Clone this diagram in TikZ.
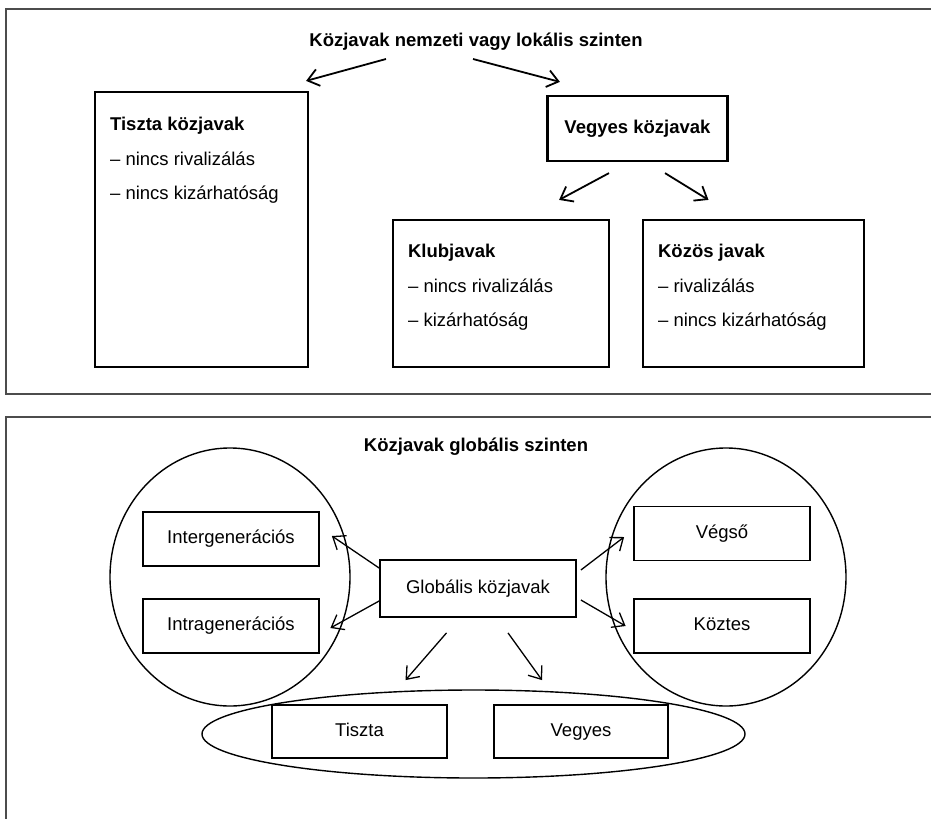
\documentclass[tikz,border=0pt]{standalone}
\usepackage{fontspec}
\setmainfont{Liberation Sans}
\usetikzlibrary{positioning,arrows.meta}

\tikzset{
  frame/.style={draw=black!70,line width=1.8pt},
  ell/.style={draw,line width=1.4pt},
  txt/.style={font=\fontsize{18.5}{22}\selectfont},
  bold/.style={font=\bfseries\fontsize{18.5}{22}\selectfont}
}

\begin{document}
\begin{tikzpicture}[x=1pt,y=-1pt,txt,>={Straight Barb[length=11pt,width=17pt]}]

      \useasboundingbox (0,0) rectangle (931,819);

      % the two panels
      \draw[frame] (931,9) -- (6,9) -- (6,394) -- (931,394);
      \draw[frame] (931,417) -- (6,417) -- (6,819);

      % national / local level
      \node[bold] (title1) at (476,42) {Közjavak nemzeti vagy lokális szinten};

      \begin{scope}[every node/.style={draw,rectangle,line width=2.2pt}]
        \node[minimum width=213pt,minimum height=275pt] (tiszta) at (201.5,229.5) {};
        \node[bold,minimum width=180pt,minimum height=65pt] (vegyes) at (637.5,128.5) {Vegyes közjavak};
        \node[minimum width=216pt,minimum height=147pt] (klub) at (501,293.5) {};
        \node[minimum width=221pt,minimum height=147pt] (kozos) at (753.5,293.5) {};
      \end{scope}

      \begin{scope}[every node/.style={align=left,inner sep=0pt,font=\fontsize{18.5}{34.5}\selectfont}]
        \node[below right=26pt and 16pt of tiszta.north west] (tisztatxt)
          {\textbf{Tiszta közjavak}\\– nincs rivalizálás\\– nincs kizárhatóság};
        \node[below right=25pt and 16pt of klub.north west] (klubtxt)
          {\textbf{Klubjavak}\\– nincs rivalizálás\\– kizárhatóság};
        \node[below right=25pt and 16pt of kozos.north west] (kozostxt)
          {\textbf{Közös javak}\\– rivalizálás\\– nincs kizárhatóság};
      \end{scope}

      \begin{scope}[every edge/.style={draw,->,line width=1.8pt}]
        \path ([xshift=-90pt,yshift=-17pt]title1.center) edge ([xshift=-3pt,yshift=10pt]tiszta.north east);
        \path ([xshift=-3pt,yshift=-17pt]title1.center) edge ([xshift=13.5pt,yshift=13pt]vegyes.north west);
        \path ([xshift=-28.5pt,yshift=-11pt]vegyes.south) edge ([xshift=-51pt,yshift=19pt]klub.north east);
        \path ([xshift=27.5pt,yshift=-11pt]vegyes.south) edge ([xshift=-45pt,yshift=19pt]kozos.north);
      \end{scope}

      % global level
      \node[bold] (title2) at (476,447) {Közjavak globális szinten};

      \draw[ell] (230,577) ellipse [x radius=120pt,y radius=129pt];
      \draw[ell] (726,577) ellipse [x radius=120pt,y radius=129pt];
      \draw[ell] (473.5,734) ellipse [x radius=271.5pt,y radius=44pt];

      \begin{scope}[every node/.style={draw,rectangle,line width=1.8pt,minimum width=176pt,minimum height=54pt,
          text height=13pt,text depth=4pt}]
        \node (inter) at (231,539) {Intergenerációs};
        \node (intra) at (231,626) {Intragenerációs};
        \node[minimum width=196pt,minimum height=57pt] (glob) at (478,588.5) {Globális közjavak};
        \node (vegso) at (722,533.5) {Végső};
        \node (koztes) at (722,626) {Köztes};
        \node[minimum width=175pt,minimum height=53pt] (tisztab) at (359.5,731.5) {Tiszta};
        \node[minimum width=174pt,minimum height=53pt] (vegyesb) at (581,731.5) {Vegyes};
      \end{scope}

      \begin{scope}[every edge/.style={draw,->,line width=1.3pt}]
        \path ([yshift=20.5pt]glob.west) edge ([xshift=12pt,yshift=3pt]inter.east);
        \path ([yshift=-12.5pt]glob.west) edge ([xshift=10.5pt,yshift=-2pt]intra.east);
        \path ([xshift=4pt,yshift=18.5pt]glob.east) edge ([xshift=-9pt,yshift=-3.5pt]vegso.west);
        \path ([xshift=4pt,yshift=-11.5pt]glob.east) edge ([xshift=-7.5pt]koztes.west);
        \path ([xshift=-31.5pt,yshift=-15pt]glob.south) edge ([xshift=46pt,yshift=24pt]tisztab.north);
        \path ([xshift=30pt,yshift=-15pt]glob.south) edge ([xshift=-39pt,yshift=24pt]vegyesb.north);
      \end{scope}

    \end{tikzpicture}
\end{document}
